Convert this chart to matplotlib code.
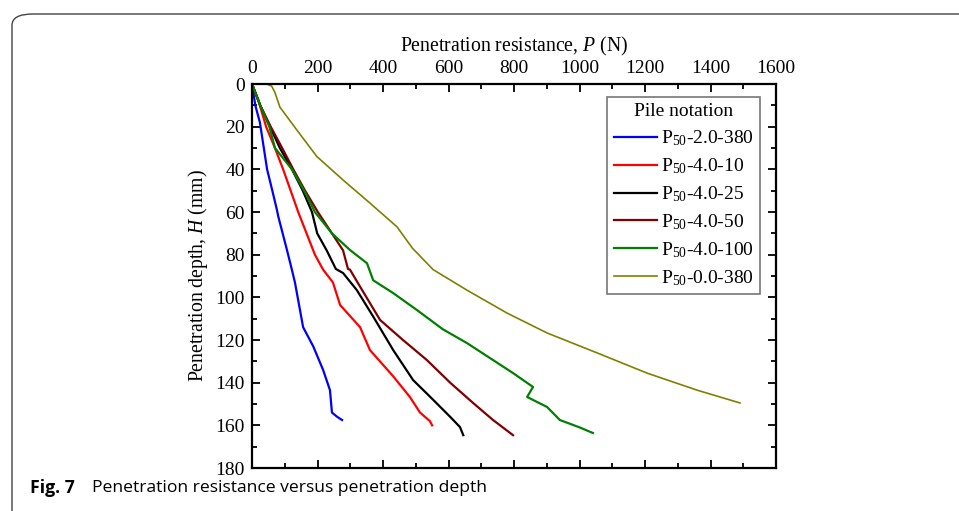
import numpy as np
import matplotlib.pyplot as plt
from matplotlib.patches import FancyBboxPatch
from matplotlib.ticker import MultipleLocator

plt.rcParams['font.family'] = 'Liberation Serif'
plt.rcParams['mathtext.fontset'] = 'custom'
plt.rcParams['mathtext.rm'] = 'Liberation Serif'
plt.rcParams['mathtext.it'] = 'Liberation Serif:italic'

# values: resistance P (N) and depth H (mm)
p_blue = [0, 10, 24, 46, 62, 76, 80, 107, 120, 131, 137, 156, 187, 217, 238, 244, 260, 275]
h_blue = [0, 10, 18, 40, 50, 59, 62, 78, 86, 93, 98, 114, 123, 134, 143.5, 154, 156, 157.5]

p_red = [0, 20, 43, 70, 95, 141, 192, 217, 247, 269, 330, 360, 431, 482, 513, 543, 550]
h_red = [0, 8, 20, 30, 40, 60, 80, 87, 93, 103.6, 114, 124.7, 137, 146.7, 154, 158, 160]

p_black = [0, 25, 55, 85, 122, 155, 183, 199, 228, 256, 278, 320, 370, 431, 492, 553, 605, 635, 645]
h_black = [0, 10, 20, 30, 40, 50, 60, 70, 78, 86.7, 88.6, 96.6, 109, 124.7, 138.8, 148, 156, 160.8, 164.6]

p_dred = [0, 25, 57, 92, 126, 162, 201, 244, 278, 293, 299, 330, 391, 461, 534, 605, 675, 736, 797]
h_dred = [0, 10, 20, 30, 40, 50, 60, 70, 78, 86.7, 87, 95, 110.6, 120, 129.4, 140, 149.5, 157.5, 164.6]

p_green = [0, 25, 53, 70, 122, 159, 192, 244, 299, 351, 370, 431, 504, 583, 656, 736, 797, 858, 840, 901, 940, 1001, 1041]
h_green = [0, 10, 20, 30, 40, 50, 60, 70, 77.8, 84, 92, 98, 106, 115, 121.4, 129.4, 135.5, 142, 146.7, 151.4, 157.5, 161, 163.6]

p_olive = [0, 45, 60, 70, 85, 137, 198, 278, 360, 443, 490, 553, 656, 779, 901, 1053, 1206, 1359, 1490]
h_olive = [0, 0, 1, 4, 10.8, 21.6, 34, 45, 55.8, 67, 77, 87, 96.6, 107.4, 116.7, 126, 135.5, 143.5, 149.5]

series = [
    (p_blue, h_blue, '#0000ff', r'P$_{50}$-2.0-380'),
    (p_red, h_red, '#ff0000', r'P$_{50}$-4.0-10'),
    (p_black, h_black, '#000000', r'P$_{50}$-4.0-25'),
    (p_dred, h_dred, '#800000', r'P$_{50}$-4.0-50'),
    (p_green, h_green, '#008000', r'P$_{50}$-4.0-100'),
    (p_olive, h_olive, '#808000', r'P$_{50}$-0.0-380'),
]

fig = plt.figure(figsize=(9.59, 5.11), dpi=100)
ax = fig.add_axes([0.2628, 0.0841, 0.5464, 0.7515])

for p, h, c, lab in series:
    lw = 1.2 if c == '#808000' else 1.6
    ax.plot(p, h, color=c, lw=lw, label=lab)

ax.set_xlim(0, 1600)
ax.set_ylim(180, 0)
ax.xaxis.set_major_locator(MultipleLocator(200))
ax.xaxis.set_minor_locator(MultipleLocator(100))
ax.yaxis.set_major_locator(MultipleLocator(20))
ax.yaxis.set_minor_locator(MultipleLocator(10))
ax.xaxis.tick_top()
ax.xaxis.set_label_position('top')
ax.tick_params(which='both', direction='in', top=True, bottom=True, left=True, right=True,
               labelsize=14, width=1.3)
ax.tick_params(which='major', length=6, pad=5)
ax.tick_params(which='minor', length=3.5)
for s in ax.spines.values():
    s.set_linewidth(1.6)

ax.set_xlabel(r'Penetration resistance, $\mathit{P}$ (N)', fontsize=14.2, labelpad=6)
ax.set_ylabel(r'Penetration depth, $\mathit{H}$ (mm)', fontsize=14.2, labelpad=4)

leg = ax.legend(title='Pile notation', loc='upper right', bbox_to_anchor=(0.97, 0.967),
                fontsize=14, title_fontsize=14, frameon=True, fancybox=False,
                edgecolor='#555555', handlelength=2.2, handletextpad=0.2,
                labelspacing=0.42, borderpad=0.35, borderaxespad=0)
leg.get_frame().set_linewidth(1.2)

# outer frame and caption
frame = FancyBboxPatch((12 / 959, -0.2), 1.2, 1.2 - 14 / 511,
                       boxstyle='round,pad=0,rounding_size=0.022',
                       transform=fig.transFigure, fill=False,
                       edgecolor='#444444', lw=1.0, clip_on=False)
fig.patches.append(frame)

fig.text(30 / 959, 1 - 488 / 511, 'Fig. 7', fontsize=12.7, fontweight='bold',
         family='Open Sans', va='center', ha='left')
fig.text(92 / 959, 1 - 488 / 511, 'Penetration resistance versus penetration depth',
         fontsize=12.6, family='Open Sans', va='center', ha='left')

fig.savefig('out.png', dpi=100)
